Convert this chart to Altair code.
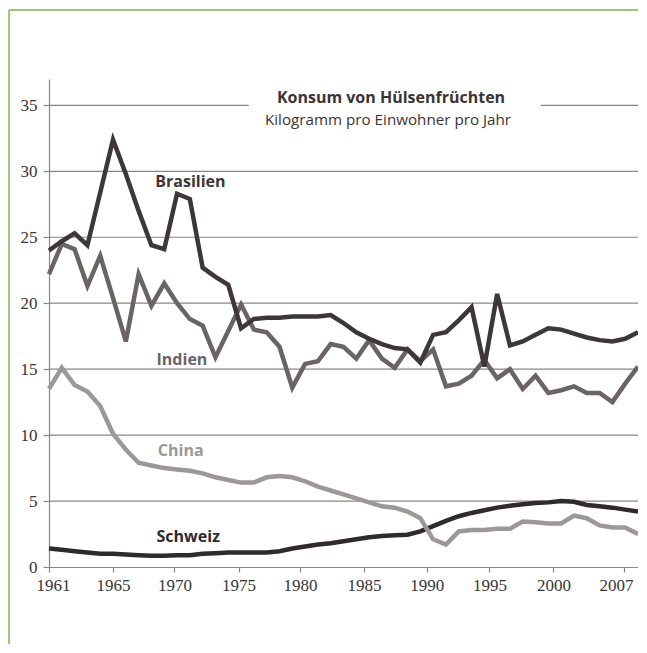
import altair as alt
import pandas as pd

years = list(range(1961, 2008))

brasilien = [24.0, 24.7, 25.3, 24.4, 28.4, 32.4, 29.8, 27.0, 24.4, 24.1,
             28.3, 27.9, 22.7, 22.0, 21.4, 18.1, 18.8, 18.9, 18.9, 19.0,
             19.0, 19.0, 19.1, 18.5, 17.8, 17.3, 16.9, 16.6, 16.5, 15.5,
             17.6, 17.8, 18.7, 19.7, 15.2, 20.7, 16.8, 17.1, 17.6, 18.1,
             18.0, 17.7, 17.4, 17.2, 17.1, 17.3, 17.8]

indien = [22.2, 24.5, 24.1, 21.3, 23.6, 20.4, 17.1, 22.2, 19.8, 21.5,
          20.0, 18.8, 18.3, 15.9, 17.9, 19.9, 18.0, 17.8, 16.7, 13.6,
          15.4, 15.6, 16.9, 16.7, 15.8, 17.2, 15.8, 15.1, 16.5, 15.6,
          16.5, 13.7, 13.9, 14.5, 15.7, 14.3, 15.0, 13.5, 14.5, 13.2,
          13.4, 13.7, 13.2, 13.2, 12.5, 13.9, 15.2]

china = [13.5, 15.1, 13.8, 13.3, 12.2, 10.1, 8.9, 7.9, 7.7, 7.5,
         7.4, 7.3, 7.1, 6.8, 6.6, 6.4, 6.4, 6.8, 6.9, 6.8,
         6.5, 6.1, 5.8, 5.5, 5.2, 4.9, 4.6, 4.5, 4.2, 3.7,
         2.1, 1.7, 2.7, 2.8, 2.8, 2.9, 2.9, 3.45, 3.4, 3.3,
         3.3, 3.9, 3.7, 3.15, 3.0, 3.0, 2.5]

schweiz = [1.4, 1.3, 1.2, 1.1, 1.0, 1.0, 0.95, 0.9, 0.85, 0.85,
           0.9, 0.9, 1.0, 1.05, 1.1, 1.1, 1.1, 1.1, 1.2, 1.4,
           1.55, 1.7, 1.8, 1.95, 2.1, 2.25, 2.35, 2.4, 2.45, 2.7,
           3.1, 3.5, 3.85, 4.1, 4.3, 4.5, 4.65, 4.75, 4.85, 4.9,
           5.0, 4.95, 4.7, 4.6, 4.5, 4.35, 4.2]

series_names = ["Schweiz", "China", "Indien", "Brasilien"]
series_values = [schweiz, china, indien, brasilien]
series_colors = ["#302a2a", "#9c9896", "#6a6463", "#3d3737"]

label_years = [1969.4, 1969.5, 1969.4, 1969.3]
label_values = [2.3, 8.8, 15.7, 29.2]

tick_pos = [1961, 1966, 1970.8, 1975.8, 1980.6, 1985.6, 1990.5, 1995.4, 2000.4, 2005.9]
tick_labels = ["1961", "1965", "1970", "1975", "1980", "1985", "1990", "1995", "2000", "2007"]
y_ticks = [0, 5, 10, 15, 20, 25, 30, 35]

grid_y = [5, 10, 15, 20, 25, 30, 35, 35]
grid_x1 = [1961, 1961, 1961, 1961, 1961, 1961, 1961, 1999.4]
grid_x2 = [2007, 2007, 2007, 2007, 2007, 2007, 1976.6, 2007]

title_text = "Konsum von Hülsenfrüchten"
subtitle_text = "Kilogramm pro Einwohner pro Jahr"

FONT = "Open Sans"
NUM_FONT = "Liberation Sans Narrow"
TEXT = "#3a3434"
GRID = "#8c8580"
FRAME = "#9dc77a"

xs = alt.Scale(domain=[1961, 2007], nice=False, zero=False)
ys = alt.Scale(domain=[0, 37], nice=False)

label_expr = "[" + ",".join("'%s'" % t for t in tick_labels) + "][indexof([" + \
    ",".join(str(p) for p in tick_pos) + "], datum.value)]"

x_axis = alt.Axis(values=tick_pos, labelExpr=label_expr, title=None, grid=False,
                  tickSize=5, tickColor=GRID, domainColor=GRID, domainWidth=1.2,
                  tickWidth=1.2, labelFont=NUM_FONT, labelFontSize=17,
                  labelColor=TEXT, labelPadding=5, labelFlush=False,
                  labelOverlap=False,
                  labelOffset={"condition": [
                      {"test": "datum.value == %s" % tick_pos[0], "value": 4},
                      {"test": "datum.value == %s" % tick_pos[-1], "value": -8}],
                      "value": 0})
y_axis = alt.Axis(values=y_ticks, title=None, grid=False, tickSize=6,
                  tickColor=GRID, domainColor=GRID, domainWidth=1.2, tickWidth=1.2,
                  labelFont=NUM_FONT, labelFontSize=17, labelColor=TEXT,
                  labelPadding=6)

one = pd.DataFrame({"a": [0]})

frame_top = alt.Chart(one).mark_rule(color=FRAME, strokeWidth=2).encode(
    x=alt.value(-40), x2=alt.value(600), y=alt.value(-69))
frame_left = alt.Chart(one).mark_rule(color=FRAME, strokeWidth=2).encode(
    x=alt.value(-40), y=alt.value(-69), y2=alt.value(570))

grid_df = pd.DataFrame({"y": grid_y, "x1": grid_x1, "x2": grid_x2})
grid = alt.Chart(grid_df).mark_rule(color=GRID, strokeWidth=1.2).encode(
    x=alt.X("x1:Q", scale=xs, axis=x_axis),
    x2="x2:Q",
    y=alt.Y("y:Q", scale=ys, axis=y_axis),
)

layers = [frame_top, frame_left, grid]
for name, vals, col in zip(series_names, series_values, series_colors):
    d = pd.DataFrame({"Jahr": years, "Wert": vals})
    layers.append(
        alt.Chart(d).mark_line(color=col, strokeWidth=4.5, strokeJoin="miter").encode(
            x=alt.X("Jahr:Q", scale=xs, axis=x_axis),
            y=alt.Y("Wert:Q", scale=ys, axis=y_axis),
        )
    )

lab_df = pd.DataFrame({"name": series_names, "x": label_years, "y": label_values,
                       "c": series_colors})
labels = alt.Chart(lab_df).mark_text(align="left", baseline="middle", font=FONT,
                                     fontSize=16, fontWeight="bold").encode(
    x=alt.X("x:Q", scale=xs, axis=x_axis),
    y=alt.Y("y:Q", scale=ys, axis=y_axis),
    text="name:N",
    color=alt.Color("c:N", scale=None),
)
layers.append(labels)

t1 = alt.Chart(pd.DataFrame({"t": [title_text]})).mark_text(
    font=FONT, fontSize=16, fontWeight="bold", color=TEXT, align="center",
    baseline="alphabetic").encode(x=alt.value(342), y=alt.value(24), text="t:N")
t2 = alt.Chart(pd.DataFrame({"t": [subtitle_text]})).mark_text(
    font=FONT, fontSize=15.2, color=TEXT, align="center",
    baseline="alphabetic").encode(x=alt.value(339), y=alt.value(46), text="t:N")
layers += [t1, t2]

chart = alt.layer(*layers).properties(
    width=589, height=488,
    autosize=alt.AutoSizeParams(type="none"),
    padding={"left": 41, "top": 71, "right": 0, "bottom": 77},
    background="white",
).configure_view(stroke=None)

chart.save("out.html", embed_options={"renderer": "svg", "actions": False})
